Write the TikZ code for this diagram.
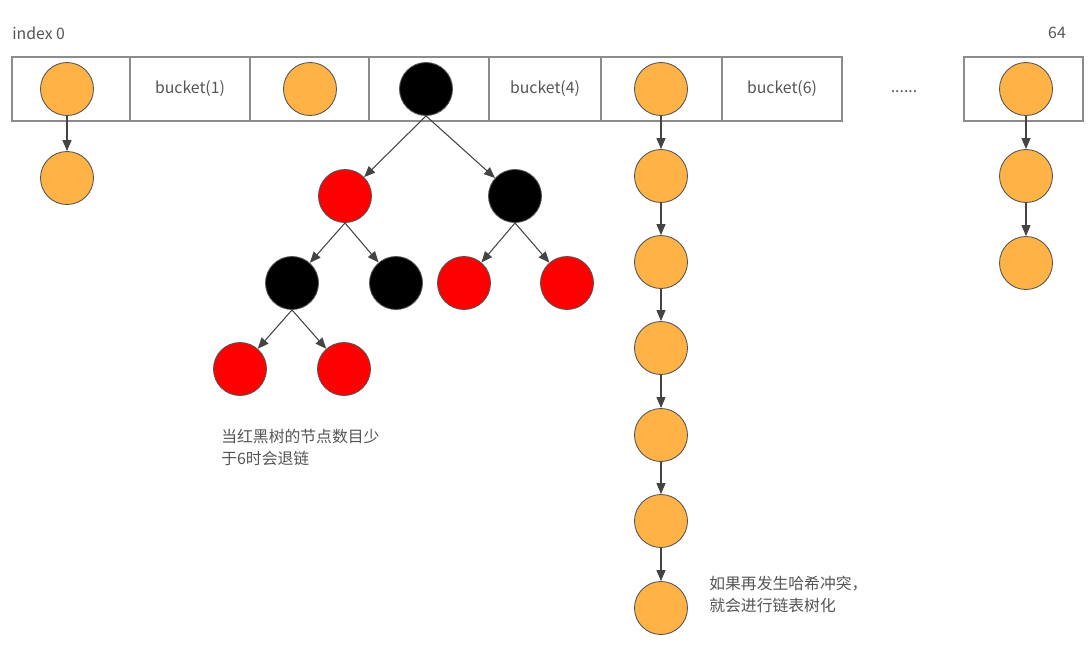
\documentclass[tikz,border=0pt]{standalone}
\usepackage{fontspec}
\setmainfont{Noto Sans CJK SC}
\usepackage{xcolor}
\usetikzlibrary{arrows.meta}

\definecolor{bucketorange}{HTML}{FFB347}
\definecolor{cellgray}{HTML}{8C8C8C}
\definecolor{rimgray}{HTML}{555555}
\definecolor{linkgray}{HTML}{444444}
\definecolor{textgray}{HTML}{555555}

\begin{document}
\begin{tikzpicture}[x=0.02cm,y=-0.02cm,
  cell/.style={draw=cellgray,line width=0.8pt,minimum height=1.28cm,inner sep=0pt,
    font=\fontsize{9}{11}\selectfont,text=textgray},
  entry/.style={circle,draw=rimgray,line width=0.5pt,minimum size=1.06cm,inner sep=0pt},
  orangenode/.style={entry,fill=bucketorange},
  rednode/.style={entry,fill=red},
  blacknode/.style={entry,fill=black},
  note/.style={text=textgray,font=\fontsize{9}{12.5}\selectfont,align=left,inner sep=0pt},
  link/.style={draw=linkgray,line width=0.6pt,-{Triangle[length=2.2mm,width=1.8mm]}}]
  \useasboundingbox (0,0) rectangle (1089,654);

  % the table
  \node[cell,minimum width=2.36cm] (c0) at (71,89) {};
  \node[cell,minimum width=2.40cm] (c1) at (190,89) {bucket(1)};
  \node[cell,minimum width=2.38cm] (c2) at (309.5,89) {};
  \node[cell,minimum width=2.40cm] (c3) at (429,89) {};
  \node[cell,minimum width=2.24cm] (c4) at (545,89) {bucket(4)};
  \node[cell,minimum width=2.42cm] (c5) at (661.5,89) {};
  \node[cell,minimum width=2.40cm] (c6) at (782,89) {bucket(6)};
  \node[cell,minimum width=2.38cm] (c64) at (1023.5,89) {};

  \node[note,anchor=west] (idx) at (12,33) {index 0};
  \node[note] (last) at (1057,33) {64};
  \node[note] (dots) at (904,92) {......};

  % bucket 0
  \node[orangenode] (a0) at (67,89) {};
  \node[orangenode] (a1) at (67,178) {};
  \draw[link] (a0.south) -- (a1);

  \node[orangenode] (b0) at (310,89) {};

  % red-black tree
  \node[blacknode] (t) at (426,89) {};
  \node[rednode] (tl) at (345,196) {};
  \node[blacknode] (tr) at (515,196) {};
  \node[blacknode] (tll) at (292,283) {};
  \node[blacknode] (tlr) at (396,283) {};
  \node[rednode] (trl) at (464,283) {};
  \node[rednode] (trr) at (567,283) {};
  \node[rednode] (tlll) at (240,369) {};
  \node[rednode] (tllr) at (344,369) {};
  \draw[link] (t.south) -- (tl);
  \draw[link] (t.south) -- (tr);
  \draw[link] (tl.south) -- (tll);
  \draw[link] (tl.south) -- (tlr);
  \draw[link] (tr.south) -- (trl);
  \draw[link] (tr.south) -- (trr);
  \draw[link] (tll.south) -- (tlll);
  \draw[link] (tll.south) -- (tllr);

  % long list in bucket 5
  \node[orangenode] (l0) at (661,89) {};
  \foreach \i/\y in {1/176,2/262,3/348,4/435,5/521,6/608}
    \node[orangenode] (l\i) at (661,\y) {};
  \foreach \i [evaluate=\i as \j using int(\i+1)] in {0,...,5}
    \draw[link] (l\i.south) -- (l\j);

  % bucket 64
  \node[orangenode] (z0) at (1026,89) {};
  \node[orangenode] (z1) at (1026,176) {};
  \node[orangenode] (z2) at (1026,263) {};
  \draw[link] (z0.south) -- (z1);
  \draw[link] (z1.south) -- (z2);

  % remarks
  \node[note,anchor=north west] (treenote) at (221,429) {当红黑树的节点数目少\\于6时会退链};
  \node[note,anchor=north west] (listnote) at (709,576) {如果再发生哈希冲突，\\就会进行链表树化};
\end{tikzpicture}
\end{document}
